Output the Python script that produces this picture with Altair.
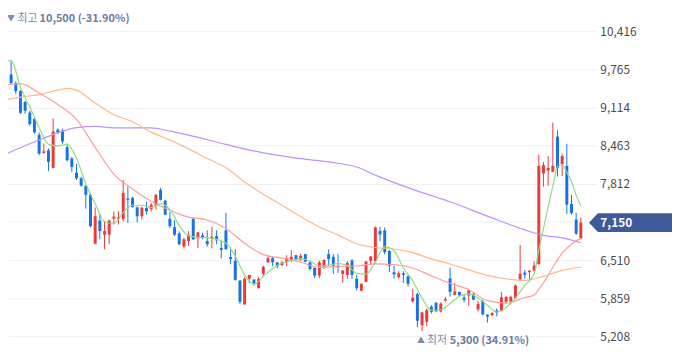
import altair as alt
import pandas as pd

FONT = "Noto Sans CJK KR"
RED = "#eb3a3a"
BLUE = "#1673e4"

# ---- daily candles (OHLC) ----
opens = [10123, 10236, 9675, 9533, 9393, 9208, 9028, 8917, 8647, 8337,
         8382, 8084, 8736, 8720, 8438, 8243, 8000, 7906, 7776, 7624,
         6793, 7186, 6945, 6945, 7220, 7215, 7211, 7562, 7574, 7410,
         7259, 7400, 7383, 7444, 7708, 7523, 7215, 7073, 6967, 6743,
         6837, 7215, 6883, 6933, 6837, 6883, 6922, 6719, 7018, 6563,
         6500, 6163, 5754, 6192, 6180, 6035, 6276, 6473, 6541, 6473,
         6428, 6473, 6517, 6596, 6517, 6613, 6473, 6377, 6248, 6399,
         6613, 6568, 6416, 6276, 6259, 6504, 6192, 5990, 6141, 6500,
         6495, 7006, 7018, 6669, 6305, 6221, 6288, 6234, 5804, 5931,
         5400, 5459, 5720, 5783, 5636, 5821, 6200, 5919, 5967, 5872,
         5906, 5923, 5670, 5813, 5582, 5574, 5653, 5644, 5799, 5805,
         5860, 6180, 6297, 6305, 6332, 6445, 7990, 8040, 8017, 8618,
         8147, 8118, 7468, 7203, 6883]
highs = [10500, 10265, 9899, 9562, 9410, 9225, 9056, 8944, 8691, 8500,
         8416, 8927, 8758, 8753, 8500, 8270, 8158, 7933, 7793, 7658,
         7410, 7287, 7174, 7203, 7338, 7343, 7877, 7764, 7591, 7427,
         7422, 7506, 7484, 7641, 7742, 7540, 7333, 7191, 7001, 6895,
         7006, 7242, 6990, 6979, 7018, 7080, 7018, 6837, 7316, 6726,
         6697, 6163, 6226, 6259, 6180, 6226, 6416, 6575, 6575, 6473,
         6500, 6596, 6681, 6596, 6625, 6613, 6484, 6389, 6500, 6529,
         6697, 6613, 6613, 6343, 6495, 6529, 6259, 6108, 6500, 6574,
         7085, 7073, 7068, 6681, 6416, 6322, 6322, 6259, 6024, 5956,
         5636, 5687, 5742, 5800, 5788, 5884, 6381, 6125, 5972, 5922,
         6015, 5956, 5821, 5838, 5585, 5628, 5687, 5968, 5897, 5906,
         6096, 6765, 6344, 6332, 6495, 8310, 8185, 8287, 8859, 8725,
         8327, 8495, 7624, 7316, 7232]
lows = [9899, 9646, 9511, 9343, 9006, 9006, 8804, 8669, 8298, 8332,
        8029, 8074, 8664, 8500, 8197, 8017, 7877, 7764, 7388, 7068,
        6782, 6866, 6697, 6782, 7119, 7119, 7169, 7147, 7405, 7157,
        7203, 7287, 7338, 7372, 7528, 7276, 7063, 6922, 6765, 6709,
        6753, 6854, 6714, 6866, 6743, 6709, 6782, 6541, 6686, 6445,
        6163, 5759, 5754, 6120, 6074, 6023, 6237, 6461, 6406, 6372,
        6406, 6406, 6473, 6500, 6500, 6473, 6332, 6204, 6204, 6360,
        6416, 6276, 6293, 6125, 6192, 6192, 5995, 5978, 6133, 6428,
        6445, 6837, 6613, 6305, 6192, 6192, 6120, 6057, 5788, 5366,
        5300, 5383, 5602, 5636, 5619, 5804, 5889, 5910, 5904, 5788,
        5729, 5827, 5636, 5568, 5447, 5551, 5551, 5636, 5771, 5754,
        5855, 6163, 6192, 6175, 6310, 6428, 7764, 7781, 8017, 7936,
        7944, 7299, 7287, 6939, 6866]
closes = [10022, 9658, 9533, 9393, 9023, 9057, 8832, 8691, 8327, 8366,
          8185, 8703, 8691, 8534, 8214, 8101, 7906, 7781, 7624, 7090,
          7259, 7006, 7006, 7186, 7254, 7237, 7658, 7540, 7417, 7259,
          7405, 7343, 7456, 7624, 7540, 7287, 7090, 6945, 6782, 6866,
          6945, 6866, 6984, 6888, 6782, 6911, 6849, 6686, 6697, 6529,
          6175, 5799, 6192, 6259, 6108, 6192, 6399, 6541, 6473, 6406,
          6473, 6541, 6568, 6517, 6585, 6484, 6360, 6248, 6473, 6512,
          6529, 6416, 6389, 6332, 6462, 6259, 6032, 6108, 6487, 6574,
          7068, 6950, 6647, 6416, 6268, 6288, 6259, 6108, 5872, 5476,
          5619, 5658, 5628, 5636, 5771, 5847, 5968, 5976, 5910, 5835,
          5998, 5838, 5762, 5585, 5547, 5607, 5619, 5877, 5884, 5884,
          6079, 6276, 6263, 6332, 6416, 8118, 8130, 8084, 8118, 8079,
          8286, 7456, 7316, 6962, 7150]

# ---- moving-average lines (candle index, price) ----
ma5_idx = list(range(0, 115, 2)) + list(range(115, 125))
ma5_val = [9848, 9916, 9461, 9124, 8770, 8484, 8458, 8484, 8248, 7810,
           7473, 7169, 7136, 7321, 7447, 7447, 7405, 7473, 7372, 7102,
           6925, 6900, 6891, 6866, 6799, 6580, 6259, 6099, 6234, 6369,
           6462, 6504, 6537, 6495, 6411, 6423, 6453, 6420, 6285, 6271,
           6478, 6740, 6667, 6377, 6158, 5863, 5653, 5665, 5771, 5894,
           5934, 5867, 5742, 5626, 5705, 5867, 6077, 6273,
           6681, 7051, 7415, 7771, 8104, 8138, 8007, 7847, 7619, 7435]
ma20_idx = list(range(0, 113, 4)) + [114, 115, 116, 118, 120, 122, 124]
ma20_val = [9486, 9520, 9360, 9166, 8913, 8433, 7978, 7725, 7515, 7363,
            7245, 7195, 7051, 6799, 6605, 6546, 6478, 6386, 6403, 6411,
            6448, 6436, 6377, 6243, 6116, 6007, 5821, 5779, 5872,
            5914, 6015, 6125, 6386, 6630, 6782, 6886]
ma60_idx = [0, 4, 8, 12, 14, 16] + list(range(20, 125, 4))
ma60_val = [9233, 9292, 9334, 9410, 9439, 9410, 9191, 8989, 8871, 8694,
            8559, 8408, 8243, 8088, 7843, 7633, 7447, 7254, 7077, 6942,
            6790, 6726, 6701, 6639, 6532, 6445, 6344, 6251, 6192, 6167,
            6234, 6335, 6389]
ma120_idx = [0, 8, 16, 20, 24, 32, 36, 40, 48, 56, 64, 72, 76, 80, 88,
             96, 104, 112, 116, 120, 124]
ma120_val = [8290, 8559, 8770, 8792, 8765, 8765, 8711, 8644, 8484, 8340,
             8243, 8163, 8099, 7961, 7717, 7506, 7262, 7026, 6933, 6891,
             6807]

y_ticks = [5208, 5859, 6510, 7161, 7812, 8463, 9114, 9765, 10416]
last_price = 7150
high_price = 10500
low_price = 5300
low_idx = 90

candles = pd.DataFrame({"idx": list(range(len(closes))), "open": opens,
                        "high": highs, "low": lows, "close": closes})
candles["dir"] = ["up" if c >= o else "down" for o, c in zip(opens, closes)]

x_scale = alt.Scale(domain=[1.333, 127.23], nice=False, zero=False, padding=0)
y_scale = alt.Scale(domain=[5046, 10775], nice=False, zero=False)
y_axis = alt.Axis(orient="right", values=y_ticks, title=None,
                  labelExpr="datum.value == 7161 ? '' : format(datum.value, ',')",
                  domain=False, ticks=False, labelPadding=4, grid=True,
                  gridColor="#eef0f4", gridWidth=1, labelFont=FONT,
                  labelFontSize=12, labelColor="#4a4a4a", labelFlush=False,
                  labelOverlap=False, labelBound=False)
X = alt.X("idx:Q", scale=x_scale, axis=None)
color = alt.Color("dir:N", scale=alt.Scale(domain=["up", "down"], range=[RED, BLUE]), legend=None)

wicks = alt.Chart(candles).mark_rule(strokeWidth=1, clip=True).encode(
    x=X, y=alt.Y("low:Q", scale=y_scale, axis=y_axis), y2="high:Q", color=color)
bodies = alt.Chart(candles).mark_bar(size=3, clip=True).encode(
    x=X, y=alt.Y("open:Q", scale=y_scale, axis=y_axis), y2="close:Q", color=color)


def ma_line(ix, vals, col):
    df = pd.DataFrame({"idx": ix, "val": vals})
    return alt.Chart(df).mark_line(color=col, strokeWidth=1.2, clip=True,
                                   interpolate="monotone").encode(
        x=X, y=alt.Y("val:Q", scale=y_scale, axis=y_axis))


l120 = ma_line(ma120_idx, ma120_val, "#bf91fa")
l60 = ma_line(ma60_idx, ma60_val, "#fdb884")
l20 = ma_line(ma20_idx, ma20_val, "#fa9d9d")
l5 = ma_line(ma5_idx, ma5_val, "#8cdd83")

# current price tag
price_df = pd.DataFrame({"p": [last_price], "txt": [f"{last_price:,}"]})
tag_path = "M-1,0 L-0.795,-0.216 L1,-0.216 L1,0.216 L-0.795,0.216 Z"
tag = alt.Chart(price_df).mark_point(shape=tag_path, size=7744, filled=True,
                                     fill="#3e5a99", strokeWidth=0, opacity=1).encode(
    x=alt.value(632), y=alt.Y("p:Q", scale=y_scale, axis=y_axis))
tag_text = alt.Chart(price_df).mark_text(align="left", baseline="middle", color="white",
                                         fontSize=12, fontWeight="bold", font=FONT).encode(
    x=alt.value(599.5), y=alt.Y("p:Q", scale=y_scale, axis=y_axis), text="txt:N")

LIGHT = "#7d8aab"
DARK = "#6a7aa2"
hi_df = pd.DataFrame({"p": [high_price], "tri": ["▼"], "word": ["최고"],
                      "txt": [f"{high_price:,} ({(last_price / high_price - 1) * 100:.2f}%)"]})
hy = alt.Y("p:Q", scale=y_scale, axis=y_axis)
hi1 = alt.Chart(hi_df).mark_text(align="center", baseline="middle", fontSize=8, color=LIGHT,
                                 dy=-7, font=FONT).encode(x=alt.value(3), y=hy, text="tri:N")
hi2 = alt.Chart(hi_df).mark_text(align="left", baseline="middle", fontSize=11, color=LIGHT,
                                 dy=-7, font=FONT).encode(x=alt.value(9.5), y=hy, text="word:N")
hi3 = alt.Chart(hi_df).mark_text(align="left", baseline="middle", fontSize=11, color=DARK,
                                 fontWeight="bold", dy=-7, font=FONT).encode(
    x=alt.value(32), y=hy, text="txt:N")

lo_df = pd.DataFrame({"idx": [low_idx], "p": [low_price], "tri": ["▲"], "word": ["최저"],
                      "txt": [f"{low_price:,} ({(last_price / low_price - 1) * 100:.2f}%)"]})
lo1 = alt.Chart(lo_df).mark_text(align="center", baseline="middle", fontSize=8, color=LIGHT,
                                 dy=10, dx=-1, font=FONT).encode(x=X, y=hy, text="tri:N")
lo2 = alt.Chart(lo_df).mark_text(align="left", baseline="middle", fontSize=11, color=LIGHT,
                                 dy=10, dx=5, font=FONT).encode(x=X, y=hy, text="word:N")
lo3 = alt.Chart(lo_df).mark_text(align="left", baseline="middle", fontSize=11, color=DARK,
                                 fontWeight="bold", dy=10, dx=28, font=FONT).encode(
    x=X, y=hy, text="txt:N")

chart = alt.layer(wicks, bodies, l120, l60, l20, l5, tag, tag_text,
                  hi1, hi2, hi3, lo1, lo2, lo3).properties(
    width=595, height=340,
    autosize=alt.AutoSizeParams(type="none"),
    padding={"left": 0, "top": 0, "right": 77, "bottom": 10},
    background="white",
).configure_view(stroke=None)

chart.save("out.html", embed_options={"renderer": "svg", "actions": False})
